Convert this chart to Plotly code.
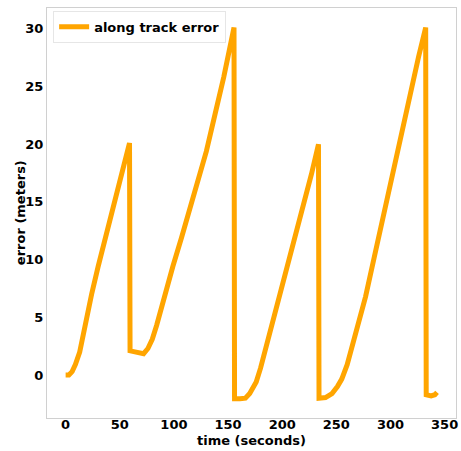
import plotly.graph_objects as go

# time (seconds) and along-track error (meters)
t = [0, 3, 6, 9, 13, 17, 21, 24, 30, 38, 45, 52, 59,
     59.5, 66, 72, 76, 80, 84, 90, 99, 107, 115, 122, 130, 138, 146, 155.5,
     156, 161, 166, 170, 176, 180, 184, 190, 197, 205, 213, 220, 227, 233.5,
     234, 240, 246, 251, 255, 260, 264, 270, 277, 285, 293, 300, 307, 314, 320, 326, 332.5,
     333, 337.5, 341, 343]
err = [0, 0, 0.3, 0.9, 2.0, 3.9, 5.8, 7.0, 9.4, 12.4, 15.1, 17.7, 20.1,
       2.1, 2.0, 1.85, 2.3, 3.1, 4.3, 6.5, 9.4, 11.9, 14.4, 16.7, 19.4, 22.6, 25.8, 30.1,
       -2.05, -2.05, -2.0, -1.6, -0.6, 0.6, 2.0, 4.2, 6.6, 9.4, 12.3, 14.9, 17.4, 20.0,
       -2.0, -1.95, -1.6, -1.0, -0.35, 0.9, 2.2, 4.3, 6.8, 10.2, 13.6, 16.8, 19.9, 22.6, 25.1, 27.6, 30.1,
       -1.7, -1.8, -1.7, -1.5]

x_ticks = [0, 50, 100, 150, 200, 250, 300, 350]
y_ticks = [0, 5, 10, 15, 20, 25, 30]

FONT = "DejaVu Sans"

fig = go.Figure()
fig.add_trace(go.Scatter(
    x=t, y=err, mode="lines", name="<b>along track error</b>",
    line=dict(color="#FFA500", width=5),
))

axis_common = dict(
    showgrid=False, zeroline=False, showline=True, mirror=True,
    linecolor="#d0d0d0", linewidth=1, ticks="",
    tickfont=dict(family=FONT, size=13, color="black", weight="bold"),
)
fig.update_xaxes(range=[-17.2, 360.5], tickvals=x_ticks, ticklabelstandoff=-6, **axis_common)
fig.update_yaxes(range=[-3.72, 31.8], tickvals=y_ticks, **axis_common)

fig.update_layout(
    width=461, height=451,
    margin=dict(l=47, r=3, t=8, b=33),
    paper_bgcolor="white", plot_bgcolor="white",
    font=dict(family=FONT, size=13, color="black"),
    showlegend=True,
    legend=dict(
        x=0.015, y=0.993, xanchor="left", yanchor="top",
        bgcolor="white", bordercolor="#e6e6e6", borderwidth=1,
        font=dict(family=FONT, size=13, color="black"),
        itemwidth=30,
    ),
    annotations=[
        dict(text="<b>time (seconds)</b>", xref="paper", yref="paper",
             x=0.5, y=-0.055, xanchor="center", yanchor="middle", showarrow=False,
             font=dict(family=FONT, size=13, color="black")),
        dict(text="<b>error (meters)</b>", xref="paper", yref="paper",
             x=-0.0657, y=0.5, xanchor="center", yanchor="middle", textangle=-90,
             showarrow=False, font=dict(family=FONT, size=13, color="black")),
    ],
)

fig.write_html("out.html")
